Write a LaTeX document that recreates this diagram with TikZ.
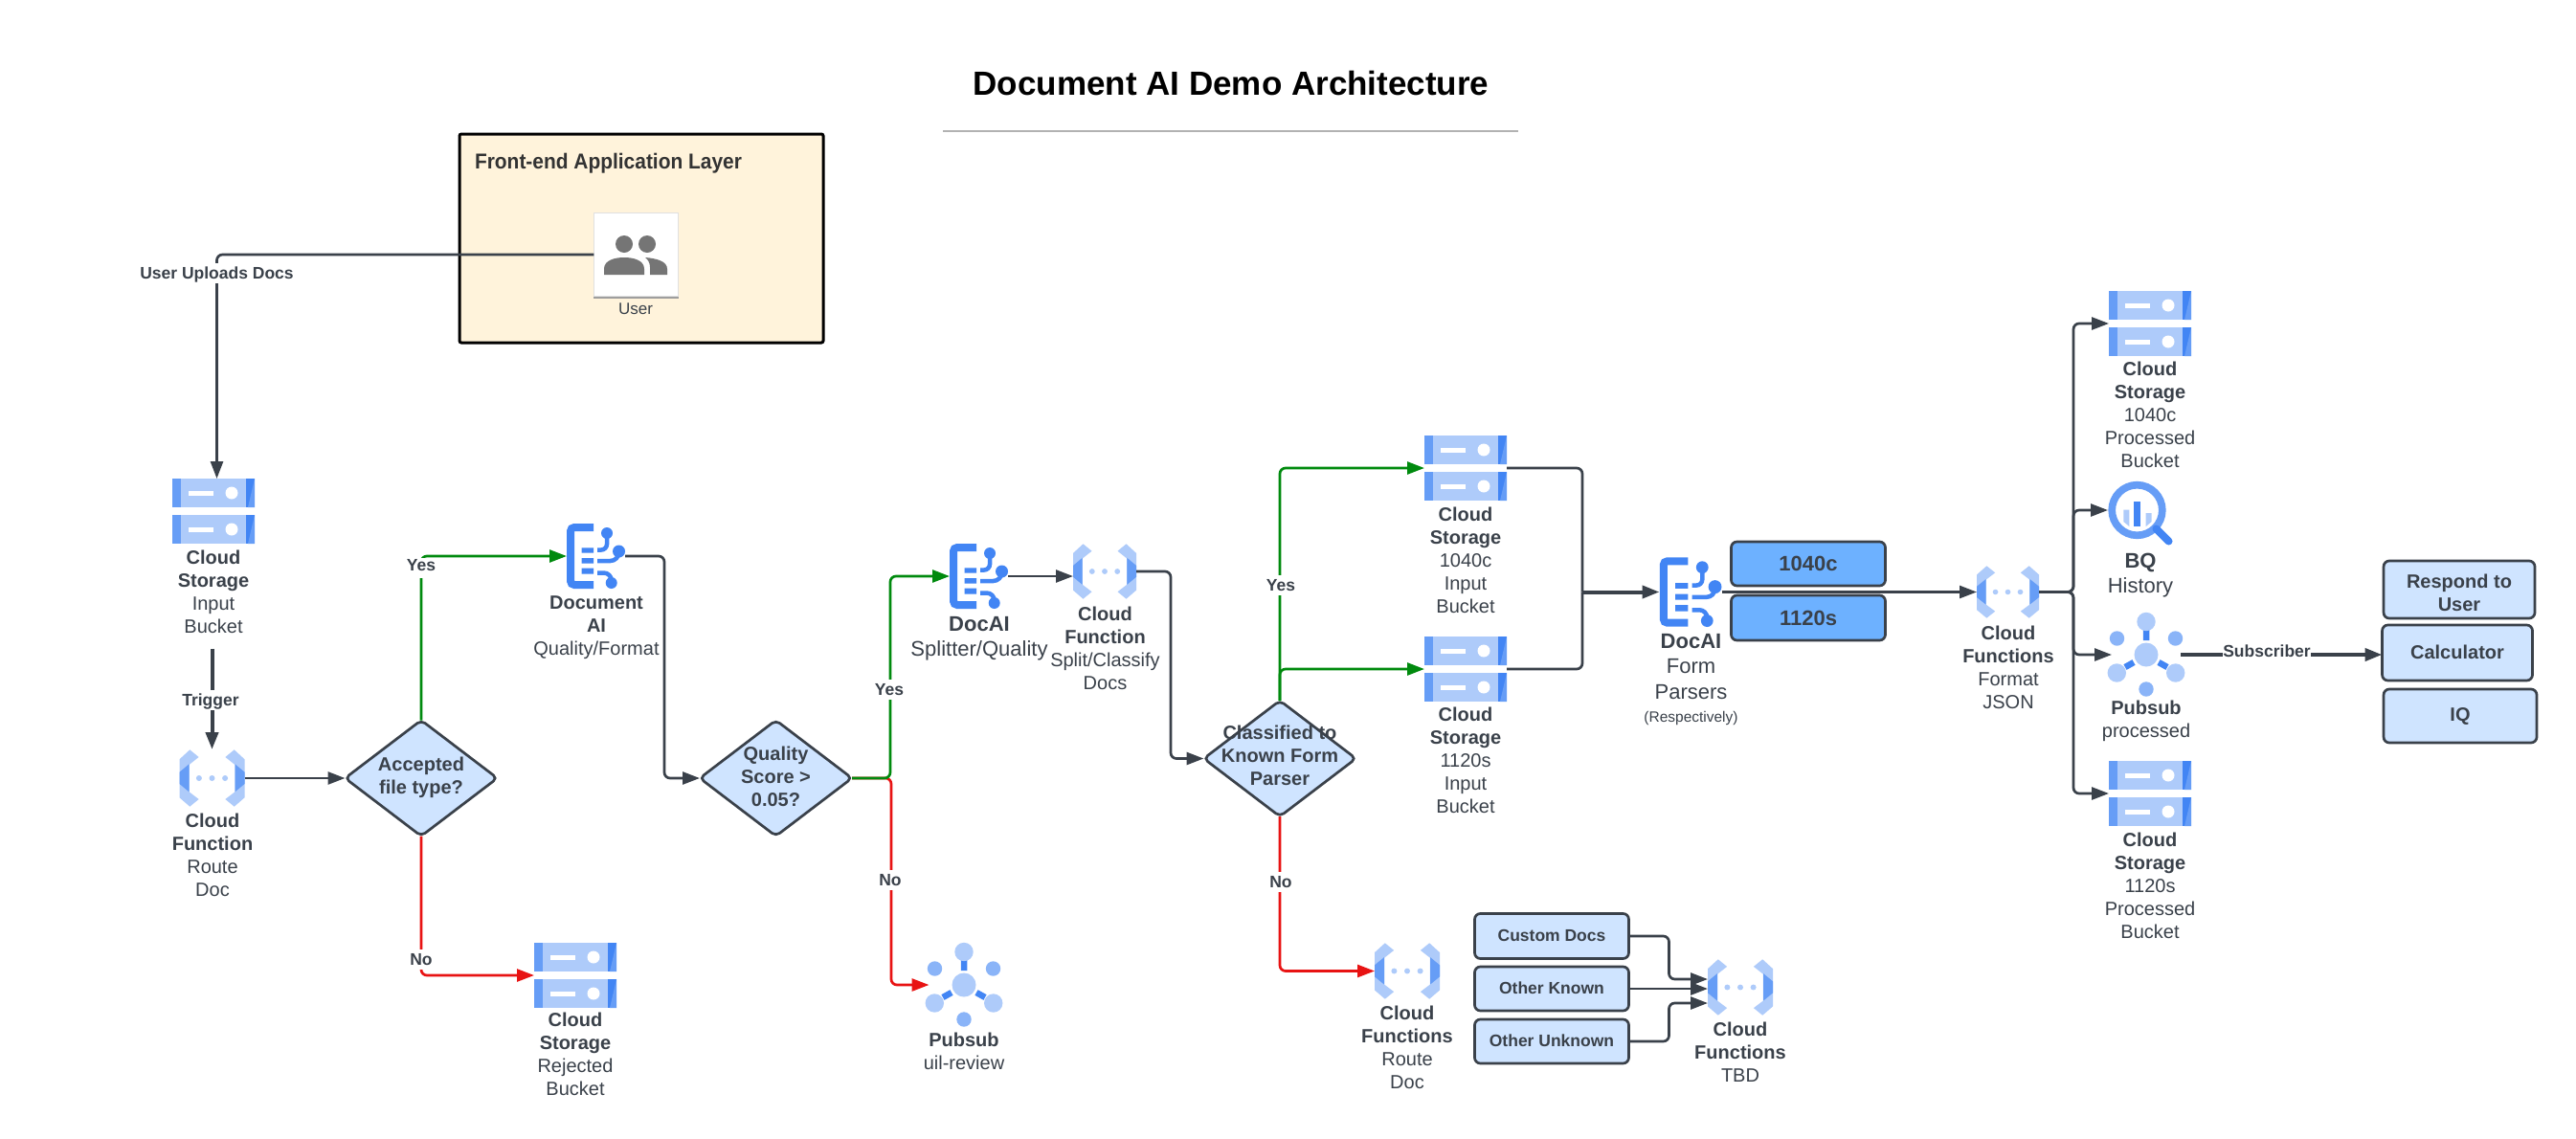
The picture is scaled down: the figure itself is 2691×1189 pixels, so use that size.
\documentclass[tikz,border=0pt]{standalone}
\usepackage{fontspec}
\usepackage{graphicx}
\setmainfont{Liberation Sans}
\usetikzlibrary{arrows.meta,shapes.geometric,calc}
\definecolor{ink}{HTML}{3A414A}
\definecolor{gl}{HTML}{AECBFA}
\definecolor{gm}{HTML}{669DF6}
\definecolor{gd}{HTML}{4285F4}
\definecolor{gs}{HTML}{8AB4F8}
\definecolor{boxblue}{HTML}{CFE4FF}
\definecolor{boxstrong}{HTML}{6DB1FF}
\definecolor{cream}{HTML}{FFF3DB}
\definecolor{okgreen}{HTML}{008A0E}
\definecolor{nored}{HTML}{E81313}
\tikzset{
  every node/.style={inner sep=0pt,outer sep=0pt},
  conn/.style={draw=ink,line width=2.7pt,rounded corners=6pt,-{Triangle[length=18pt,width=13pt]}},
  plain/.style={draw=ink,line width=2.7pt,rounded corners=6pt},
  yesline/.style={conn,draw=okgreen,-{Triangle[length=18pt,width=13pt,fill=okgreen]},color=okgreen},
  noline/.style={conn,draw=nored,-{Triangle[length=18pt,width=13pt,fill=nored]},color=nored},
  tb/.style={anchor=north,align=center,text=ink,font=\fontsize{20}{24}\selectfont},
  tbbig/.style={anchor=north,align=center,text=ink,font=\fontsize{22}{26.5}\selectfont},
  elabel/.style={fill=white,inner xsep=1.5pt,inner ysep=2.5pt,text=ink,text height=14pt,text depth=2pt,font=\fontsize{17.5}{20}\selectfont\bfseries},
  decision/.style={diamond,aspect=1.32,draw=ink,line width=2.7pt,fill=boxblue,rounded corners=5pt,minimum width=159pt,minimum height=121pt},
  bx/.style={rectangle,draw=ink,line width=2.7pt,rounded corners=6pt,fill=boxblue,text=ink,align=center,font=\fontsize{20}{24}\selectfont\bfseries},
  bxs/.style={bx,font=\fontsize{17.5}{21}\selectfont\bfseries},
  bxc/.style={bx,fill=boxstrong,font=\fontsize{22}{26}\selectfont\bfseries},
  iconbox/.style={rectangle}
}
\newcommand{\bb}[1]{\textbf{#1}}
% slab of a storage icon
\newcommand{\stslab}[1]{%
  \fill[gl] (0,#1) rectangle (86,#1+30);
  \fill[gm] (0,#1) rectangle (9,#1+30);
  \fill[gd] (77,#1) rectangle (86,#1+30);
  \fill[gm] (86,#1) -- (86,#1+30) -- (79,#1+30) -- cycle;
  \fill[white] (17,#1+12.5) rectangle (43,#1+17.5);
  \fill[white] (62,#1+15) circle (6.5);
}
% name, left, top
\newcommand{\iStorage}[3]{%
  \node[iconbox,minimum width=86pt,minimum height=68pt] (#1) at (#2+43,#3+34) {};
  \begin{scope}[shift={(#2,#3)}]\stslab{0}\stslab{38}\end{scope}
}
\newcommand{\fnhalf}{%
  \fill[gl] (-23.2,-29.7) -- (-13.9,-22) -- (-23.9,-14) -- (-23.9,14.3) -- (-13.9,22) -- (-23.2,29.7) -- (-34,20.3) -- (-34,-19.7) -- cycle;
  \fill[gm] (-24,-14.7) -- (-34,-6.3) -- (-34,6) -- (-24,14.3) -- cycle;
}
% name, cx, cy, w, h
\newcommand{\iFunction}[5]{%
  \node[iconbox,minimum width=#4pt,minimum height=#5pt] (#1) at (#2,#3) {};
  \begin{scope}[shift={(#2,#3)},xscale=#4/68,yscale=#5/60]
    \fnhalf
    \begin{scope}[xscale=-1]\fnhalf\end{scope}
    \fill[gl] (-13.6,0) circle (3) (0,0) circle (3) (13.6,0) circle (3);
  \end{scope}
}
% name, left, top, w, h
\newcommand{\iDocai}[5]{%
  \node[iconbox,minimum width=#4pt,minimum height=#5pt] (#1) at (#2+#4/2,#3+#5/2) {};
  \begin{scope}[shift={(#2,#3)},xscale=#4/61,yscale=#5/68]
    \draw[gd,line width=8pt,rounded corners=4pt] (28,4) -- (4,4) -- (4,64) -- (28,64);
    \fill[gd] (15.7,25.3) rectangle (28,30.5) (15.7,36) rectangle (28,41.5) (15.7,46.7) rectangle (28,52.7);
    \fill[gd] (42,10) circle (6) (54.5,29) circle (6.5) (46.7,62) circle (6);
    \draw[gd,line width=4.5pt,rounded corners=6pt] (42,10) -- (42,27.5) -- (32,27.5);
    \draw[gd,line width=4.5pt,rounded corners=9pt] (54.5,29) -- (54.5,39) -- (32,39);
    \draw[gd,line width=4.5pt,rounded corners=8pt] (32,51.5) -- (46.7,51.5) -- (46.7,62);
  \end{scope}
}
% name, cx, cy
\newcommand{\iPubsub}[3]{%
  \node[iconbox,minimum width=80pt,minimum height=88pt] (#1) at (#2,#3) {};
  \begin{scope}[shift={(#2,#3)}]
    \draw[gd,line width=6.5pt] (0,-26) -- (0,-15) (-22,13) -- (-13,8) (22,13) -- (13,8);
    \fill[gl] (0,0) circle (12.5) (0,-34.5) circle (9.7) (-30.7,19) circle (9.7) (30.7,19) circle (9.7);
    \fill[gs] (0,36) circle (7.7) (-30.5,-17) circle (7.7) (30.5,-17) circle (7.7);
  \end{scope}
}
\begin{document}
\begin{tikzpicture}[x=1pt,y=-1pt]
\useasboundingbox (0,0) rectangle (2691,1189);
\fill[white] (0,0) rectangle (2691,1189);

% title
\node[font=\fontsize{35}{40}\selectfont\bfseries,text=black] (title) at (1286,87) {Document AI Demo Architecture};
\draw[color=black!30,line width=2.2pt] (985,136.7) coordinate (ruleL) -- (1586,136.7) coordinate (ruleR);

% front-end layer
\node[rectangle,draw=black,line width=3pt,fill=cream,rounded corners=2pt,minimum width=380pt,minimum height=218pt] (layer) at (670,249) {};
\node[anchor=west,text=black!80,font=\fontsize{22.5}{24}\selectfont\bfseries] (layertitle) at (496,171) {\scalebox{0.93}[1]{Front-end Application Layer}};
\fill[black!38] (620,309) rectangle (709,312);
\node[rectangle,draw=black!12,line width=0.8pt,fill=white,minimum width=88.5pt,minimum height=87pt] (user) at (664.5,266) {};
\fill[black!54] (652,255) circle (9) (676,255) circle (9);
\fill[black!54] (631,287) -- (631,281) .. controls (631,272) and (642,269) .. (652,269) .. controls (662,269) and (673,272) .. (673,281) -- (673,287) -- cycle;
\fill[black!54] (679,287) -- (679,279) .. controls (679,275) and (677,271) .. (674,269) .. controls (686,270) and (697,273) .. (697,281) -- (697,287) -- cycle;
\node[tb,font=\fontsize{17}{20}\selectfont] (usertxt) at (664,317) {User};

% icons and their texts
\iStorage{stinput}{180}{500}
\node[tb] (stinputtxt) at (223,575) {\bb{Cloud}\\\bb{Storage}\\Input\\Bucket};
\iFunction{fnroute}{221.5}{813}{68}{60}
\node[tb] (fnroutetxt) at (222,850) {\bb{Cloud}\\\bb{Function}\\Route\\Doc};
\iDocai{docq}{592}{547}{61}{68}
\node[tb] (docqtxt) at (623,622.5) {\bb{Document}\\\bb{AI}\\Quality/Format};
\iStorage{strej}{558}{985}
\node[tb] (strejtxt) at (601,1058) {\bb{Cloud}\\\bb{Storage}\\Rejected\\Bucket};
\iDocai{docs}{992}{568}{61}{68}
\node[tbbig] (docstxt) at (1023,644) {\bb{DocAI}\\Splitter/Quality};
\iFunction{fnsplit}{1154}{597}{66}{58}
\node[tb] (fnsplittxt) at (1154.5,634) {\bb{Cloud}\\\bb{Function}\\Split/Classify\\Docs};
\iPubsub{psreview}{1007}{1029}
\node[tb] (psreviewtxt) at (1007,1079) {\bb{Pubsub}\\uil-review};
\iStorage{st40in}{1488}{455}
\node[tb] (st40intxt) at (1531,529.5) {\bb{Cloud}\\\bb{Storage}\\1040c\\Input\\Bucket};
\iStorage{st20in}{1488}{665}
\node[tb] (st20intxt) at (1531,738.5) {\bb{Cloud}\\\bb{Storage}\\1120s\\Input\\Bucket};
\iDocai{docf}{1733.5}{582}{65}{73}
\node[tbbig] (docftxt) at (1766.5,662) {\bb{DocAI}\\Form\\Parsers\\[-2pt]{\fontsize{15.5}{18}\selectfont (Respectively)}};
\iFunction{fnroutetwo}{1470}{1014.5}{68}{59}
\node[tb] (fnroutetwotxt) at (1470,1051) {\bb{Cloud}\\\bb{Functions}\\Route\\Doc};
\iFunction{fntbd}{1818}{1031.5}{68}{59}
\node[tb] (fntbdtxt) at (1818,1068) {\bb{Cloud}\\\bb{Functions}\\TBD};
\iFunction{fnjson}{2097.5}{618.5}{65}{55}
\node[tb] (fnjsontxt) at (2098,654) {\bb{Cloud}\\\bb{Functions}\\Format\\JSON};
\iStorage{st40out}{2203}{304}
\node[tb] (st40outtxt) at (2246,378) {\bb{Cloud}\\\bb{Storage}\\1040c\\Processed\\Bucket};
\iStorage{st20out}{2203}{795}
\node[tb] (st20outtxt) at (2246,870) {\bb{Cloud}\\\bb{Storage}\\1120s\\Processed\\Bucket};
\iPubsub{psproc}{2242}{684}
\node[tb] (psproctxt) at (2242,732) {\bb{Pubsub}\\processed};
% BigQuery icon
\node[iconbox,minimum width=61pt,minimum height=61pt] (bq) at (2232.5,533) {};
\fill[gl] (2218.3,532.5) -- (2224.3,532.5) -- (2224.3,550) -- (2218.3,545) -- cycle;
\fill[gl] (2241.7,536) -- (2247.7,536) -- (2247.7,545) -- (2241.7,550) -- cycle;
\fill[gd] (2229,524.3) rectangle (2236.3,550);
\draw[gm,line width=7.7pt] (bq.center) circle (26.3);
\draw[gd,line width=8pt,line cap=round] (2252.5,552.5) -- (2265.5,565.5);
\node[tbbig] (bqtxt) at (2236,578) {\bb{BQ}\\History};

% boxes
\node[bxc,minimum width=161pt,minimum height=46pt] (f40) at (1889,589) {1040c};
\node[bxc,minimum width=161pt,minimum height=47pt] (f20) at (1889,645.5) {1120s};
\node[bxs,minimum width=161pt,minimum height=47pt] (custom) at (1621,978) {\raisebox{1.5pt}{Custom Docs}};
\node[bxs,minimum width=161pt,minimum height=46pt] (known) at (1621,1033) {\raisebox{1.5pt}{Other Known}};
\node[bxs,minimum width=161pt,minimum height=46pt] (unknown) at (1621,1088) {\raisebox{1.5pt}{Other Unknown}};
\node[bx,minimum width=158pt,minimum height=60pt] (respond) at (2569,616) {\rule{0pt}{20.5pt}Respond to\\User};
\node[bx,minimum width=157pt,minimum height=58pt] (calc) at (2567,682) {\raisebox{1pt}{Calculator}};
\node[bx,minimum width=160pt,minimum height=56pt] (iq) at (2570,748) {IQ};

% decisions
\node[decision] (dtype) at (440,813) {};
\node[tb] (dtypetxt) at (440,791) {\bb{Accepted}\\\bb{file type?}};
\node[decision] (dqual) at (810.5,813) {};
\node[tb] (dqualtxt) at (810.5,779.5) {\bb{Quality}\\\bb{Score >}\\\bb{0.05?}};
\node[decision] (dclass) at (1337,792.5) {};

% connectors
\draw[conn] (user.west) -| ([xshift=3.5pt]stinput.north);
\draw[conn,line width=4pt] ([yshift=-16pt]fnroute.north |- stinputtxt.south) -- (fnroute.north);
\draw[conn] (fnroute.east) -- (dtype.west);
\draw[yesline] (dtype.north) |- (docq.west);
\draw[noline] (dtype.south) |- (strej.west);
\draw[conn] (docq.east) -- ++(41,0) |- (dqual.west);
\draw[noline] (dqual.east) -- ++(41,0) |- ([xshift=3.5pt]psreview.west);
\draw[yesline] (dqual.east) -- ++(40,0) |- (docs.west);
\draw[conn] (docs.east) -- (docs.east -| fnsplit.west);
\draw[conn] (fnsplit.east) -- ++(36,0) |- (dclass.west);
\draw[yesline] (dclass.north) |- (st40in.west);
\draw[yesline] (dclass.north) |- (st20in.west);
\draw[noline] (dclass.south) |- (fnroutetwo.west);
\coordinate (mergeform) at (1653,618.5);
\draw[plain] (st40in.east) -| (mergeform);
\draw[plain] (st20in.east) -| (mergeform);
\draw[conn,line width=4pt] (mergeform) -- (docf.west);
\draw[conn] (docf.east) -- (fnjson.west);
\coordinate (trunk) at (2166,618.5);
\draw[conn] (fnjson.east) -- (trunk) |- (st40out.west);
\draw[conn] (fnjson.east) -- (trunk) |- (bq.west);
\draw[conn] (fnjson.east) -- (trunk) |- ([xshift=4pt]psproc.west);
\draw[conn] (fnjson.east) -- (trunk) |- (st20out.west);
\draw[conn,line width=4pt] ([xshift=-4pt]psproc.east) -- (psproc.east -| calc.west);
\draw[conn] (custom.east) -- ++(42,0) |- ([yshift=8.5pt]fntbd.west);
\draw[conn] (known.east) -- (known.east -| fntbd.west);
\draw[conn] (unknown.east) -- ++(42,0) |- ([yshift=-16.5pt]fntbd.west);

% text of the third decision goes over the connector ends
\node[tb] (dclasstxt) at (1337,757.5) {\bb{Classified to}\\\bb{Known Form}\\\bb{Parser}};

% connector labels
\node[elabel] (lupload) at (226.5,285) {User Uploads Docs};
\node[elabel] (ltrigger) at (220,731) {Trigger};
\node[elabel,text height=12pt,text depth=6pt,inner ysep=1.5pt] (lyesa) at (440,593) {Yes};
\node[elabel] (lnoa) at (440,1002) {No};
\node[elabel] (lyesb) at (929,720) {Yes};
\node[elabel] (lnob) at (930,919) {No};
\node[elabel] (lyesc) at (1338,611) {Yes};
\node[elabel] (lnoc) at (1338,921) {No};
\node[elabel,inner xsep=0pt] (lsub) at (2368,680) {Subscriber};
\end{tikzpicture}
\end{document}
